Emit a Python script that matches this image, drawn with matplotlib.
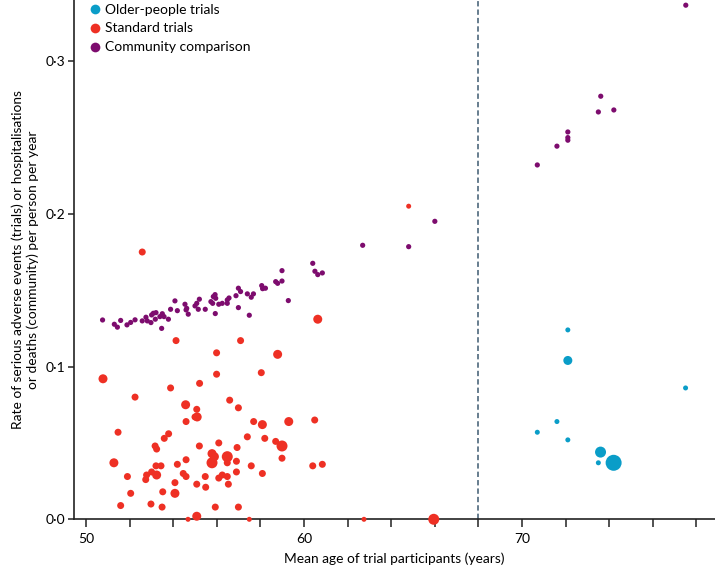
import numpy as np
import matplotlib.pyplot as plt
from matplotlib.lines import Line2D
from matplotlib.ticker import FixedLocator, FuncFormatter

# older-people trials (teal)
older_age = [72.1, 72.1, 77.5, 71.6, 70.7, 72.1, 73.6, 73.5, 74.2]
older_rate = [0.124, 0.104, 0.086, 0.064, 0.057, 0.052, 0.044, 0.037, 0.037]
older_w = [1, 3, 1, 1, 1, 1, 4, 1, 5]

# standard trials (red)
std_age = [52.58, 54.13, 57.09, 55.99, 58.79, 60.63, 50.78, 55.99, 58.04, 53.88,
           55.21, 52.25, 54.57, 55.08, 56.59, 56.99, 55.00, 55.10, 54.59, 57.69,
           58.09, 59.30, 60.49, 51.47, 53.79, 53.59, 57.40, 58.20, 58.70, 58.99,
           56.09, 53.17, 53.24, 55.20, 56.93, 58.99, 55.78, 55.89, 56.48, 55.78,
           56.48, 56.90, 51.28, 53.21, 53.44, 54.19, 54.59, 57.58, 60.40, 60.84,
           51.90, 53.01, 52.78, 52.74, 53.24, 54.46, 54.59, 55.47, 56.09, 56.25,
           56.48, 56.53, 56.90, 58.09, 52.05, 53.52, 54.08, 54.08, 55.08, 55.49,
           51.59, 52.98, 53.49, 55.93, 56.99, 54.68, 55.08, 57.49, 62.75, 64.80,
           65.95]
std_rate = [0.175, 0.117, 0.117, 0.109, 0.108, 0.131, 0.092, 0.095, 0.096, 0.086,
            0.089, 0.080, 0.075, 0.072, 0.078, 0.073, 0.067, 0.067, 0.064, 0.064,
            0.062, 0.064, 0.065, 0.057, 0.056, 0.053, 0.054, 0.053, 0.051, 0.048,
            0.050, 0.048, 0.046, 0.048, 0.047, 0.040, 0.043, 0.041, 0.041, 0.037,
            0.037, 0.038, 0.037, 0.035, 0.035, 0.036, 0.039, 0.035, 0.035, 0.036,
            0.028, 0.031, 0.029, 0.026, 0.029, 0.030, 0.028, 0.028, 0.027, 0.029,
            0.028, 0.023, 0.031, 0.030, 0.017, 0.018, 0.024, 0.017, 0.023, 0.021,
            0.009, 0.010, 0.008, 0.008, 0.008, 0.000, 0.002, 0.000, 0.000, 0.205,
            0.000]
std_w = [2, 2, 2, 2, 3, 3, 3, 2, 2, 2,
         2, 2, 3, 2, 2, 2, 2, 3, 2, 2,
         3, 3, 2, 2, 2, 2, 2, 2, 2, 4,
         2, 2, 2, 2, 2, 2, 3, 3, 4, 4,
         2, 2, 3, 2, 2, 2, 2, 2, 2, 2,
         2, 2, 2, 2, 3, 2, 2, 2, 2, 2,
         2, 2, 2, 2, 2, 2, 2, 3, 2, 2,
         2, 2, 2, 2, 2, 1, 3, 1, 1, 1,
         4]

# community comparison (purple)
comm_age = [50.76, 51.30, 51.44, 51.59, 51.88, 52.05, 52.25, 52.58, 52.75, 52.81,
            52.98, 53.01, 53.09, 53.21, 53.18, 53.39, 53.50, 53.47, 53.58, 53.78,
            53.88, 54.08, 54.19, 54.54, 54.62, 54.59, 54.69, 55.00, 55.08, 55.20,
            55.15, 55.47, 55.73, 55.84, 55.92, 55.95, 55.81, 55.93, 56.09, 56.25,
            56.48, 56.56, 56.48, 56.88, 56.99, 57.09, 56.99, 57.40, 57.58, 57.68,
            57.49, 58.06, 58.10, 58.23, 58.70, 58.79, 58.99, 58.99, 59.28, 60.40,
            60.50, 60.63, 60.84, 62.69, 64.80, 66.00, 70.70, 71.60, 72.10, 72.10,
            72.10, 73.50, 73.61, 74.21, 77.51]
comm_rate = [0.1305, 0.1277, 0.1258, 0.1302, 0.1273, 0.1289, 0.1306, 0.1299, 0.1323, 0.1299,
             0.1288, 0.1338, 0.1349, 0.1353, 0.1310, 0.1327, 0.1346, 0.1250, 0.1327, 0.1310,
             0.1375, 0.1430, 0.1366, 0.1408, 0.1381, 0.1371, 0.1343, 0.1397, 0.1414, 0.1441,
             0.1375, 0.1375, 0.1425, 0.1458, 0.1471, 0.1447, 0.1414, 0.1347, 0.1408, 0.1414,
             0.1436, 0.1449, 0.1414, 0.1464, 0.1513, 0.1491, 0.1386, 0.1476, 0.1454, 0.1476,
             0.1336, 0.1530, 0.1510, 0.1513, 0.1556, 0.1545, 0.1560, 0.1628, 0.1432, 0.1676,
             0.1624, 0.1602, 0.1613, 0.1794, 0.1785, 0.1951, 0.2320, 0.2443, 0.2536, 0.2499,
             0.2482, 0.2667, 0.2770, 0.2680, 0.3366]

TEAL = "#0a9dc8"
RED = "#ee3024"
PURPLE = "#7d0c6e"

# marker diameter in pixels for each weight class
DIAM = {1: 5.0, 2: 7.0, 3: 9.0, 4: 11.0, 5: 16.0}


def sizes(w):
    return [(DIAM[k] * 0.72) ** 2 for k in w]


plt.rcParams['font.family'] = ['Lato', 'DejaVu Sans']
plt.rcParams['font.size'] = 9

fig = plt.figure(figsize=(7.15, 5.68), dpi=100)
ax = fig.add_axes([74 / 715, 1 - 519.3 / 568, (715 - 74) / 715, 519.3 / 568])

ax.axvline(68, color="#3d5a70", lw=1.1, ls=(0, (3.5, 2)), zorder=1)

ax.scatter(comm_age, comm_rate, s=[(5.2 * 0.72) ** 2] * len(comm_age),
           color=PURPLE, linewidths=0, zorder=3, clip_on=False)
ax.scatter(std_age, std_rate, s=sizes(std_w), color=RED, linewidths=0,
           zorder=3, clip_on=False)
ax.scatter(older_age, older_rate, s=sizes(older_w), color=TEAL, linewidths=0,
           zorder=3, clip_on=False)

ax.set_xlim(49.45, 78.85)
ax.set_ylim(0, 0.340)

for side in ("top", "right"):
    ax.spines[side].set_visible(False)
for side in ("left", "bottom"):
    ax.spines[side].set_linewidth(1.2)
    ax.spines[side].set_color("#222222")

ax.xaxis.set_major_locator(FixedLocator([50, 60, 70]))
ax.xaxis.set_minor_locator(FixedLocator(list(range(52, 79, 2))))
ax.yaxis.set_major_locator(FixedLocator([0.0, 0.1, 0.2, 0.3]))
ax.yaxis.set_major_formatter(FuncFormatter(lambda v, p: f"{v:.1f}".replace(".", "\u00b7")))
ax.tick_params(axis="x", which="both", length=6, width=1.1, color="#222222",
               labelsize=10, pad=4)
ax.tick_params(axis="y", length=4, width=1.1, color="#222222", labelsize=10, pad=2)

ax.set_xlabel("Mean age of trial participants (years)", fontsize=9.9, labelpad=5)
ax.set_ylabel("Rate of serious adverse events (trials) or hospitalisations\n"
              "or deaths (community) per person per year", fontsize=9.9, labelpad=5)

handles = [
    Line2D([], [], ls="", marker="o", ms=7, color=TEAL, mew=0, label="Older-people trials"),
    Line2D([], [], ls="", marker="o", ms=7, color=RED, mew=0, label="Standard trials"),
    Line2D([], [], ls="", marker="o", ms=7, color=PURPLE, mew=0, label="Community comparison"),
]
fig.legend(handles=handles, loc="upper left", bbox_to_anchor=(78 / 715, 1.006),
           frameon=False, fontsize=10, handletextpad=0.05, labelspacing=0.5,
           handlelength=1.4, borderpad=0)

plt.savefig("out.png", dpi=100)
